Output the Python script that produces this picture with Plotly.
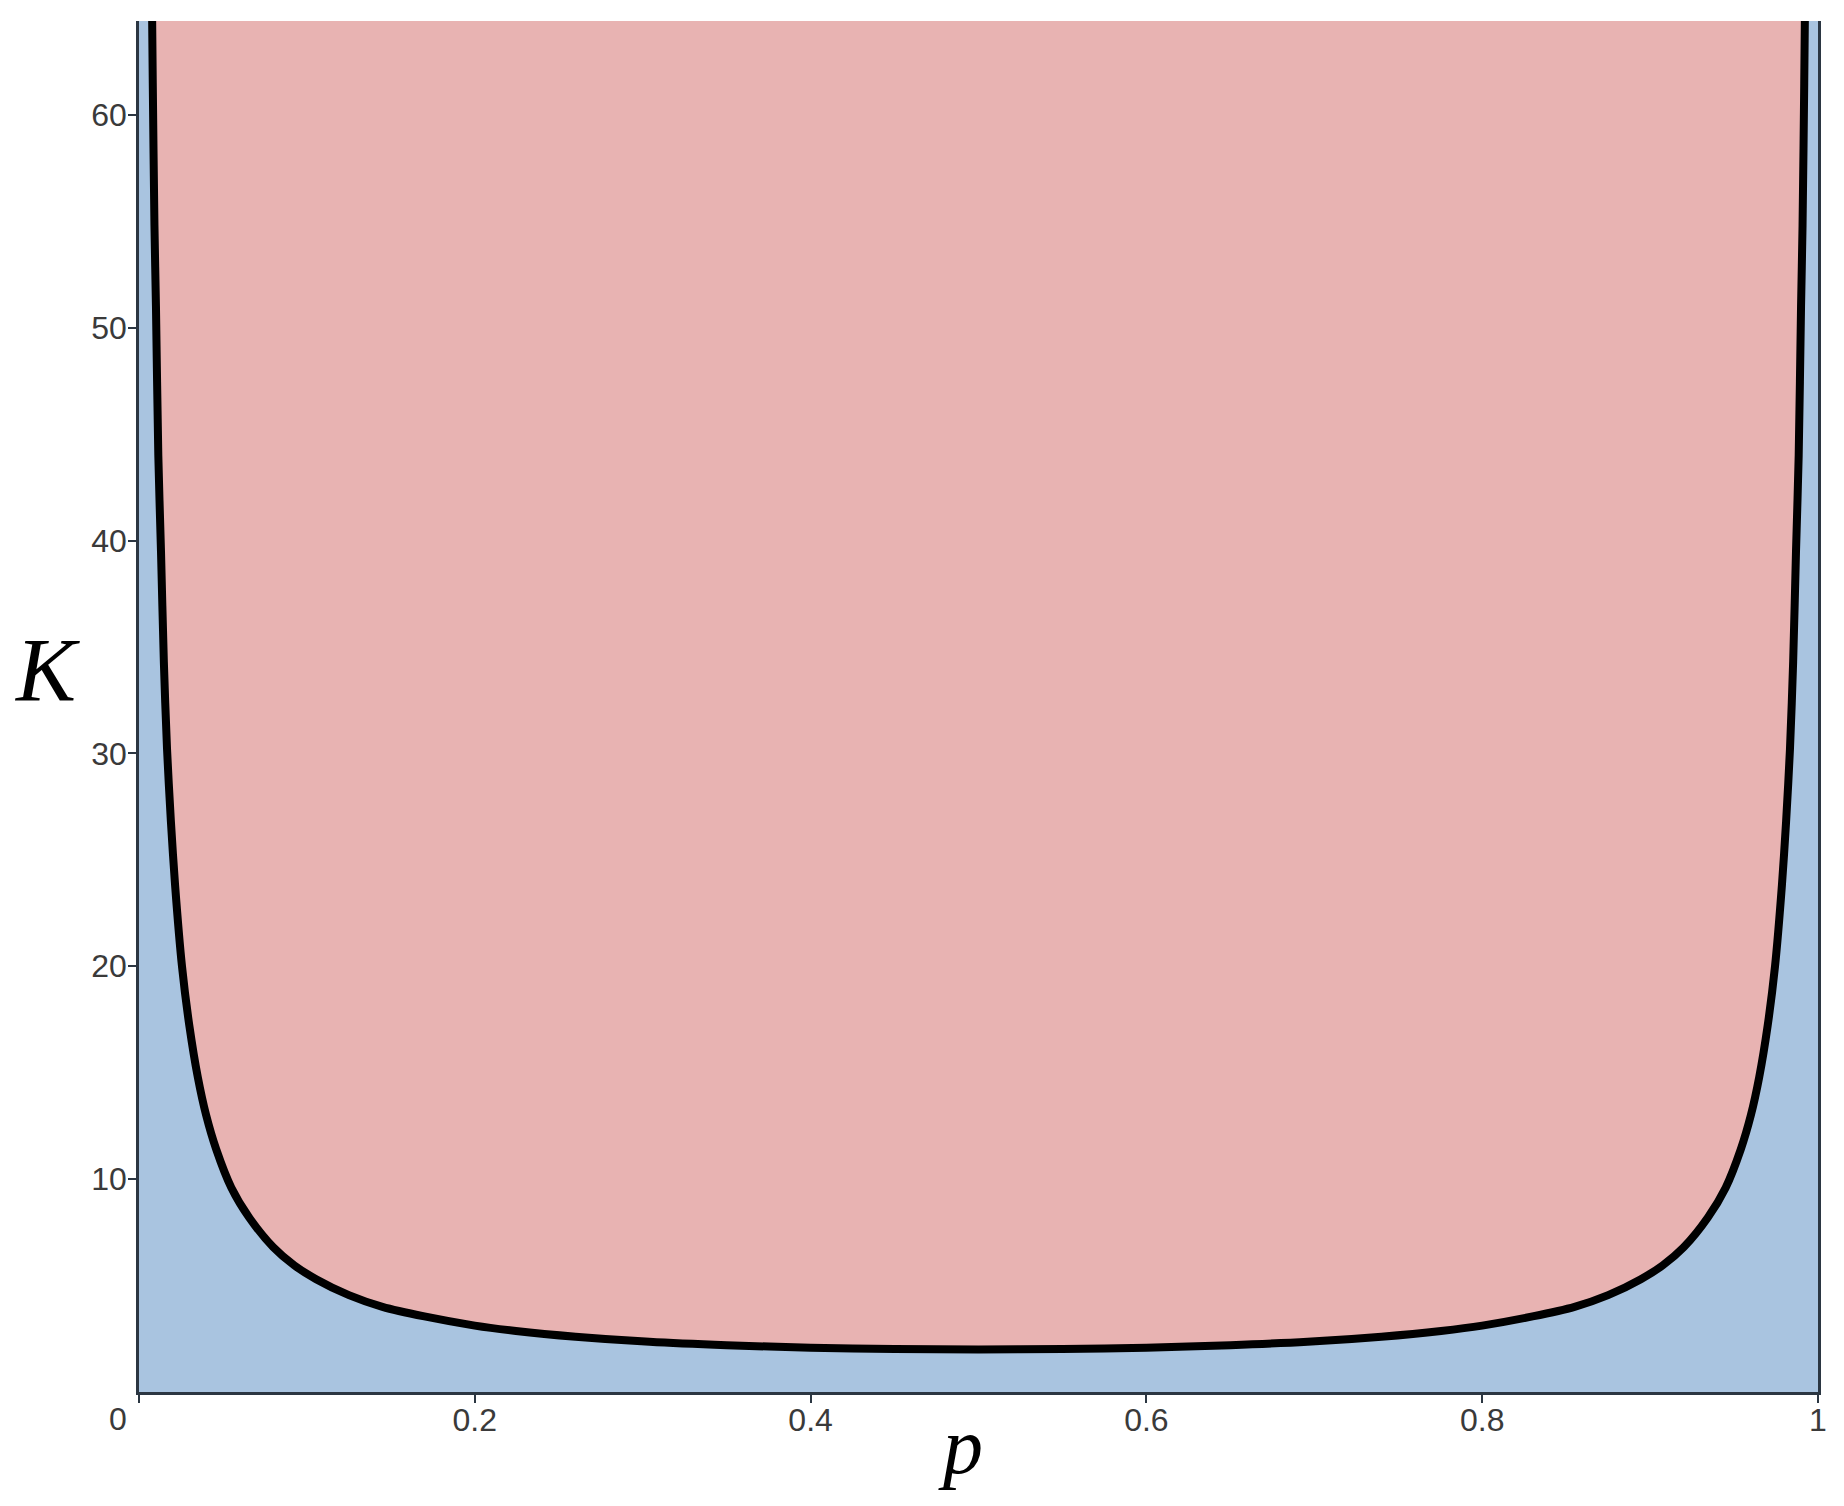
import plotly.graph_objects as go

# Boundary curve K(p) (left half, then right half)
p_vals = [0.0072, 0.0082, 0.0092, 0.0101, 0.0115, 0.0131, 0.0148, 0.0167, 0.0190, 0.0215,
          0.0256, 0.030, 0.035, 0.040, 0.046, 0.055, 0.0656, 0.080, 0.0925, 0.1055,
          0.125, 0.145, 0.170, 0.200, 0.2245, 0.260, 0.304, 0.350, 0.400, 0.450, 0.500,
          0.550, 0.600, 0.650, 0.696, 0.740, 0.7755, 0.800, 0.830, 0.855, 0.875,
          0.8945, 0.9075, 0.920, 0.9344, 0.945, 0.954, 0.960, 0.965, 0.970, 0.9744,
          0.9785, 0.9810, 0.9833, 0.9852, 0.9869, 0.9885, 0.9899, 0.9908, 0.9918, 0.9928]
K_vals = [69.5, 61.5, 54.8, 51.0, 44.0, 39.5, 34.3, 30.2, 26.8, 23.8,
          20.0, 17.2, 14.8, 13.0, 11.4, 9.6, 8.2, 6.8, 5.95, 5.3,
          4.55, 4.0, 3.55, 3.12, 2.87, 2.6, 2.36, 2.2, 2.08, 2.02, 2.0,
          2.02, 2.08, 2.2, 2.36, 2.6, 2.87, 3.12, 3.55, 4.0, 4.55,
          5.3, 5.95, 6.8, 8.2, 9.6, 11.4, 13.0, 14.8, 17.2, 20.0,
          23.8, 26.8, 30.2, 34.3, 39.5, 44.0, 51.0, 54.8, 61.5, 69.5]

x_tickvals = [0, 0.2, 0.4, 0.6, 0.8, 1]
x_ticktext = ["", "0.2", "0.4", "0.6", "0.8", "1"]
y_tickvals = [10, 20, 30, 40, 50, 60]
y_ticktext = ["10", "20", "30", "40", "50", "60"]

PINK = "#E8B3B2"
BLUE = "#A9C4E0"
AXIS = "#2B3642"
TICKFONT = dict(family="Liberation Sans, Arial, sans-serif", size=32, color="#3a3a3a")
SERIF = "Liberation Serif, Times New Roman, serif"

fig = go.Figure()
fig.add_trace(go.Scatter(
    x=p_vals, y=K_vals, mode="lines",
    line=dict(color="black", width=8, shape="spline", smoothing=0.8),
    fill="toself", fillcolor=PINK, hoverinfo="skip", showlegend=False,
))

fig.update_layout(
    width=1836, height=1498,
    margin=dict(l=131, r=26, t=13, b=114),
    paper_bgcolor="white", plot_bgcolor=BLUE,
    showlegend=False,
    xaxis=dict(
        range=[0, 1], tickvals=x_tickvals, ticktext=x_ticktext,
        showgrid=False, zeroline=False,
        showline=True, linecolor=AXIS, linewidth=2.5, mirror=False,
        ticks="outside", ticklen=8, tickwidth=2, tickcolor=AXIS,
        tickfont=TICKFONT, ticklabelstandoff=-10,
    ),
    yaxis=dict(
        range=[0, 64.41], tickvals=y_tickvals, ticktext=y_ticktext,
        showgrid=False, zeroline=False,
        showline=True, linecolor=AXIS, linewidth=2.5, mirror=True,
        ticks="outside", ticklen=8, tickwidth=2, tickcolor=AXIS,
        tickfont=TICKFONT, ticklabelstandoff=-5,
    ),
    annotations=[
        dict(text="K", xref="paper", yref="paper", x=0, y=0.5266, xanchor="center", yanchor="middle",
             xshift=-92, showarrow=False,
             font=dict(family=SERIF, size=90, color="black", style="italic")),
        dict(text="p", xref="paper", yref="paper", x=0.5, y=0, xanchor="center", yanchor="middle",
             xshift=-18, yshift=-54, showarrow=False,
             font=dict(family=SERIF, size=80, color="black", style="italic")),
        dict(text="0", xref="paper", yref="paper", x=0, y=0, xanchor="center", yanchor="top",
             xshift=-21, yshift=-7, showarrow=False, font=TICKFONT),
    ],
)

fig.write_html("out.html")
